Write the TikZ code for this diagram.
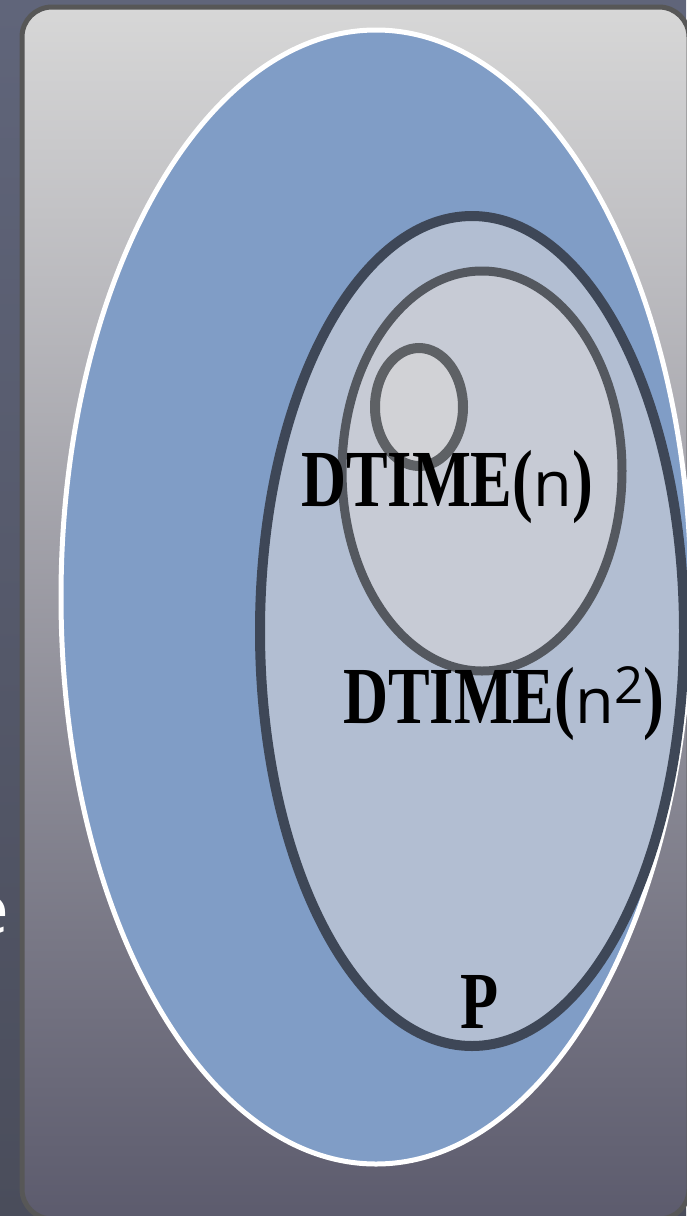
\documentclass[tikz,border=0pt]{standalone}
\usepackage{fontspec}
\usetikzlibrary{positioning}
\newfontfamily\labserif{Liberation Serif}[FakeStretch=0.77]
\newfontfamily\labsans{Open Sans}
\definecolor{slate}{HTML}{60657A}
\definecolor{slatedark}{HTML}{4A4D5B}
\definecolor{paneltop}{HTML}{D7D7D7}
\definecolor{panelbot}{HTML}{5C5B6D}
\definecolor{rim}{HTML}{575757}
\definecolor{sky}{HTML}{809DC6}
\definecolor{mist}{HTML}{B2BED2}
\definecolor{ink}{HTML}{3E4757}
\definecolor{haze}{HTML}{C7CBD5}
\definecolor{smoke}{HTML}{54585F}
\definecolor{pale}{HTML}{D1D2D6}
\definecolor{ash}{HTML}{5E6165}
\newcommand{\nvar}{{\labsans\mdseries\fontsize{63}{63}\selectfont n}}
\newcommand{\sqr}{{\labsans\mdseries\fontsize{51}{51}\selectfont\raisebox{20pt}{2}}}
\tikzset{panel/.style={draw=rim,line width=5pt,rounded corners=30pt,top color=paneltop,bottom color=panelbot},
         pset/.style={draw=white,line width=5pt,fill=sky},
         dtwo/.style={draw=ink,line width=10pt,fill=mist},
         done/.style={draw=smoke,line width=9pt,fill=haze},
         dlin/.style={draw=ash,line width=10pt,fill=pale},
         lab/.style={anchor=base west,inner sep=0pt,text=black,font=\fontsize{81}{85}\selectfont\labserif\bfseries}}

\begin{document}
\begin{tikzpicture}[x=1pt,y=-1pt]
 \useasboundingbox (0,0) rectangle (686,1216);
 \shade[top color=slate,bottom color=slatedark] (0,0) rectangle (686,1216);
 \node[anchor=base east,inner sep=0pt,text=white,font=\fontsize{67}{67}\selectfont\labsans] (cut) at (9,933) {e};
 % slide panel
 \draw[panel] (22,7) rectangle (689,1219);
 % nested classes
 \draw[pset] (376,597) ellipse [x radius=315,y radius=567];
 \draw[dtwo] (472,631) ellipse [x radius=212,y radius=415];
 \draw[done] (482,471) ellipse [x radius=140,y radius=200];
 \draw[dlin] (419,407) ellipse [x radius=44,y radius=59];
 % labels
 \node[lab] (ln) at (301,506) {DTIME(\nvar)};
 \node[lab] (lnn) at (343,723) {DTIME(\nvar\sqr)};
 \node[lab] (lp) at (460,1028) {P};
\end{tikzpicture}
\end{document}
